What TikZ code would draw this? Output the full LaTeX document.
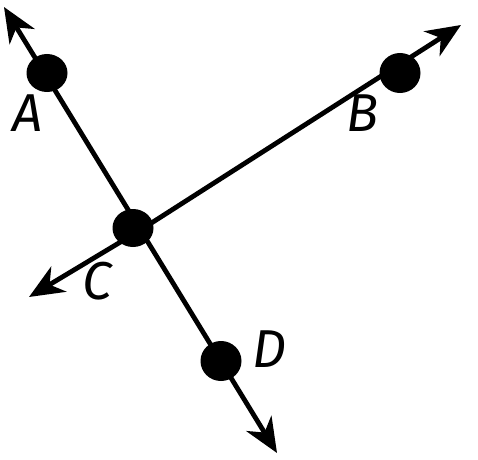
\documentclass[tikz,border=0pt]{standalone}
\usepackage{fontspec}
\setmainfont{Fira Sans}
\usetikzlibrary{arrows.meta}
\begin{document}
\begin{tikzpicture}[x=0.75pt,y=-0.75pt,
  ray/.style={line width=3.6pt,-{Stealth[length=26pt,width=22pt,inset=8pt]}},
  lbl/.style={font=\fontsize{40}{40}\selectfont\itshape,inner sep=0pt}]
\useasboundingbox (0,0) rectangle (478,460);
\coordinate (t1) at (4,7);
\coordinate (t2) at (277,453);
\coordinate (t3) at (29,297);
\coordinate (t4) at (461,25);
\coordinate (m1) at (140.5,230);
\draw[ray] (m1) -- (t1);
\draw[ray] (m1) -- (t2);
\draw[ray] (m1) -- (t3);
\draw[ray] (m1) -- (t4);
\fill (47,73) ellipse (20.5 and 19) coordinate (A);
\fill (400,73) ellipse (20.5 and 20) coordinate (B);
\fill (133,228) ellipse (20.5 and 19) coordinate (C);
\fill (221,361) ellipse (20.5 and 20) coordinate (D);
\node[lbl] (lA) at (28,113) {A};
\node[lbl] (lB) at (363,113) {B};
\node[lbl] (lC) at (97,281) {C};
\node[lbl] (lD) at (270,349) {D};
\end{tikzpicture}
\end{document}
